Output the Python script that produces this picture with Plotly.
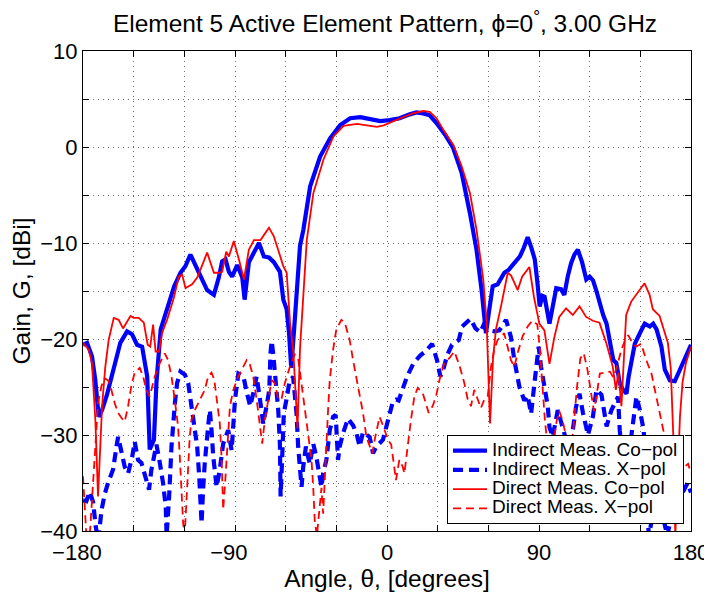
import plotly.graph_objects as go

# ---------------- data ----------------
theta_ind_co = [-180, -177.6, -174.7, -172.7, -170.7, -168.7, -165.8, -161.8, -157.9, -153.9, -151, -148, -145, -142,
                -140.5, -138, -136.5, -134, -130, -126, -122.3, -119.3, -116.4, -113.4, -110.4, -106.5, -102.5, -99.6,
                -97.6, -95.6, -93.6, -91.7, -88.7, -85.7, -84.3, -81.8, -78.8, -75.8, -72.9, -69.9, -67, -63.4, -61.4,
                -59.4, -58, -56.7, -55, -53.5, -51.5, -49.5, -45.5, -39.6, -33.7, -27.7, -21.8, -15.8, -9.9, -4, 1.6,
                7.5, 13.5, 17.4, 21.4, 25.3, 29.3, 34.3, 39.2, 44.2, 49.1, 53, 56, 58.6, 60.5, 62.6, 65.5, 69.5, 72,
                75, 78.7, 81, 83.3, 85.5, 87.5, 89, 90.4, 92, 93.3, 96.2, 98, 100.2, 103, 105, 107, 109, 111, 113,
                115.5, 118, 120, 122, 124, 126, 128, 130, 132, 134, 135.8, 137.8, 139.8, 141.8, 143, 144.7, 146.7,
                149.7, 152.6, 155.6, 157.6, 159.6, 162.5, 164.5, 167.5, 170.4, 173.4, 176.4, 180]
gain_ind_co = [-20.6, -20.4, -21.8, -24.3, -28.1, -27.4, -25.8, -22.9, -20.4, -19.2, -19.5, -20.6, -20.8, -23.9,
               -31.5, -30.5, -24.5, -19.0, -16.8, -14.5, -13.1, -12.4, -11.2, -12.4, -13.5, -14.9, -15.4, -13.6,
               -11.9, -11.7, -13.0, -13.5, -12.3, -13.6, -15.9, -12.0, -11.0, -10.0, -11.4, -11.5, -12.0, -13.0, -15.9,
               -16.9, -19.4, -23.0, -19.0, -14.9, -10.3, -8.6, -4.1, -1.0, 0.9, 2.3, 3.0, 3.1, 2.9, 2.7, 2.8,
               3.0, 3.4, 3.6, 3.5, 3.3, 2.5, 1.3, -0.1, -2.7, -6.9, -10.7, -14.9, -19.4, -17.0, -14.5, -14.3, -13.1, -12.8,
               -12.2, -11.4, -10.5, -9.4, -10.5, -11.7, -14.0, -16.6, -15.5, -15.6, -18.4, -16.5, -14.7, -14.8, -15.4,
               -13.5, -12.1, -11.2, -10.7, -12.0, -13.8, -13.5, -13.9, -15.0, -16.3, -17.5, -18.4, -20.5, -22.2, -22.5,
               -24.6, -25.3, -25.7, -24.0, -22.5, -20.5, -19.4, -18.4, -18.7, -18.4, -19.0, -20.8, -23.2, -24.3, -24.4,
               -23.2, -21.8, -20.6]

theta_ind_x = [-180, -178, -176, -174, -172.5, -171, -169, -167.2, -165.2, -162.2, -160, -159.2, -157.3, -155.3,
               -153.3, -150.8, -149.4, -147.4, -145.4, -143.4, -140.9, -139.5, -136.5, -134.5, -132.6, -131, -130.5,
               -129, -127.6, -125.6, -124.3, -122.3, -119.7, -117.7, -115.8, -113.8, -112.4, -111.2, -110.4, -109.8,
               -108.9, -107.9, -105.9, -104.9, -103.9, -102.9, -100.9, -99, -97, -94, -92, -91, -90, -88, -85, -83,
               -81, -79, -77.2, -75.2, -73.3, -71.3, -69.7, -69, -68.3, -67.4, -66.4, -64.4, -63.4, -63, -61.9,
               -61.1, -59.5, -57.9, -55.6, -53.6, -52.6, -51.6, -50.6, -49.6, -48, -46.7, -45.7, -43.7, -41.8,
               -40.2, -38.8, -37.8, -35.9, -33.9, -31.9, -30.4, -29, -28, -26, -23.1, -20.1, -18.1, -16.2, -14.2,
               -10.3, -8.3, -6.3, -2.4, -0.4, 1.5, 3.5, 5.5, 6.9, 11.9, 15.8, 19.8, 22.7, 26.7, 29.6, 31.6, 33.6,
               35.6, 38.5, 42.5, 44.5, 49.4, 52.4, 55.3, 57.3, 60.6, 63.6, 66.5, 70.5, 73.4, 75.4, 78.4, 81.3, 83.3,
               85.3, 87.5, 88.8, 89.8, 91.2, 93.2, 95.2, 96.2, 98.1, 101.1, 103.1, 105.1, 108, 112, 114, 116, 119,
               122, 124, 127, 130, 132.9, 136.8, 137.8, 140, 144, 147.7, 149.7, 152, 155, 160, 166, 170, 175, 178, 180]
gain_ind_x = [-36.8, -36.9, -35.9, -37.0, -39.5, -41.0, -37.8, -36.2, -35.0, -33.6, -31.0, -30.2, -31.7, -33.3,
              -34.0, -32.2, -30.7, -32.6, -32.9, -34.3, -35.7, -33.6, -31.0, -32.9, -35.0, -37.5, -40.5,
              -36.4, -31.2, -26.7, -24.6, -23.4, -23.7, -24.6, -27.0, -29.1, -31.2, -34.3, -37.1, -39.2,
              -35.7, -32.9, -29.1, -27.4, -29.5, -32.2, -35.4, -33.6, -30.9, -29.5, -31.6, -28.1, -26.3, -23.6, -23.9,
              -25.6, -27.0, -25.5, -23.9, -26.3, -28.8, -27.0, -25.3, -21.5, -20.2, -21.5, -23.6, -27.4, -31.0, -36.4,
              -31.6, -27.7, -26.3, -24.6, -23.9, -27.7, -31.2, -34.0, -35.4, -33.3, -31.2, -32.3, -33.0, -30.9, -32.3,
              -34.0, -35.4, -34.0, -32.6, -29.5, -28.1, -27.9, -32.6, -31.2, -29.8, -28.3, -29.0, -29.8, -31.2, -29.7,
              -30.2, -31.9, -31.2, -30.5, -29.1, -27.9, -26.5, -26.3, -26.4, -23.9, -22.5, -21.7, -21.3, -20.5, -22.2,
              -23.9, -23.0, -21.7, -20.6, -20.1, -18.7, -17.9, -18.9, -19.3, -18.5, -19.1, -19.2, -19.1, -18.0, -19.8,
              -22.2, -25.0, -26.4, -25.9, -27.8, -24.3, -22.2, -20.8, -22.9, -25.0, -27.0, -29.2, -30.2, -27.4, -28.5,
              -29.9, -32.0, -27.0, -25.7, -27.7, -30.0, -28.0, -25.3, -25.8, -29.1, -27.4, -26.0, -29.5, -33.0, -31.0,
              -26.0, -27.4, -29.5, -40.5, -36.0, -40.5, -37.0, -36.0, -35.0, -36.0]

theta_dir_co = [-180, -176.6, -174.7, -172.7, -171.1, -168.7, -166.8, -164.8, -161.8, -158.9, -156.3, -153.9, -151.9,
                -150, -147, -144, -141.7, -140.2, -138.5, -137, -135, -133.2, -130.2, -126.2, -123.3, -121.3, -119.3,
                -115.4, -112.4, -109.4, -106.5, -102.5, -99.6, -97.6, -95.2, -93.6, -90.7, -87.7, -84.7, -81.8, -78.8,
                -74.9, -69.9, -67, -63, -61.4, -59.4, -57.4, -55.4, -53, -51.5, -49.5, -47.5, -43.6, -37.6, -31.7,
                -25.7, -17.8, -9.9, -6, -2, 3.6, 9.5, 15.4, 21.4, 25.3, 29.3, 33.3, 39.2, 44.2, 49.1, 53, 57, 59, 61,
                62.8, 64.5, 67.5, 71.5, 73.5, 77.4, 80, 84.3, 87, 90.2, 93.2, 96.2, 99.1, 102, 106, 110, 114, 117.9,
                121.9, 125.8, 129.8, 133.7, 135.5, 137, 138.8, 139.8, 141.6, 144.6, 149.5, 152.5, 155.5, 157.4, 161.4,
                166.3, 168, 169.5, 170.7, 172.2, 173.5, 175, 177, 180]
gain_dir_co = [-20.4, -21.1, -22.5, -28.4, -36.4, -27.0, -22.9, -20.1, -17.8, -18.0, -18.9, -18.2, -17.6,
               -17.8, -17.8, -18.3, -20.6, -20.8, -18.5, -21.3, -21.3, -19.4, -18.0, -15.7, -13.5, -13.3, -14.7,
               -14.3, -13.6, -12.3, -11.0, -13.1, -13.1, -13.0, -10.9, -11.4, -9.8, -11.7, -13.8, -10.7, -9.7,
               -9.7, -8.4, -9.3, -11.7, -12.4, -13.1, -18.3, -21.5, -29.3, -21.0, -14.9, -9.7, -4.8, -1.3, 1.1,
               2.2, 2.4, 2.2, 2.1, 2.26, 2.7, 3.1, 3.5, 3.75, 3.65, 3.0, 1.8, 0.24, -2.0, -4.8, -8.6, -13.8, -18.3, -28.8,
               -22.0, -19.0, -16.6, -13.1, -13.4, -14.9, -13.5, -12.5, -15.6, -18.4, -19.1, -22.6, -19.8, -17.7, -16.8,
               -17.5, -16.6, -17.7, -18.1, -18.3, -20.4, -22.9, -25.3, -23.5, -27.0, -23.2, -17.5, -16.1, -14.9, -14.2,
               -15.4, -16.9, -17.6, -20.4, -23.0, -30.0, -40.5, -33.0, -28.0, -24.5, -22.5, -20.8]

theta_dir_x = [-180, -179, -178, -176, -175, -174, -173, -172, -171.1, -169.1, -167.2, -165.2, -163.2, -161.2,
               -159.2, -157.3, -155.3, -153.3, -151.3, -149.4, -146.4, -144.4, -142.5, -140.5, -137.5, -134.5,
               -131.6, -129.6, -127.6, -125.7, -123.7, -122.7, -121.7, -120.7, -119.8, -118.7, -116.8, -115.8,
               -113.8, -111.8, -109.8, -107.9, -105.9, -103.9, -102.3, -101, -99, -98, -97.4, -97, -96, -94, -93,
               -91, -88.1, -86, -83.1, -81.1, -79.2, -77.2, -75.2, -73.9, -72.3, -70.3, -68.3, -66.4, -64.4, -62.4,
               -60.5, -57.5, -54.6, -52.6, -50.6, -48.7, -46.7, -44.7, -43.7, -42.8, -41.5, -39.8, -38.8, -37.8,
               -36.8, -35.9, -34.9, -33.9, -31.9, -30, -27, -25, -22.1, -20.1, -17.2, -14.2, -12.2, -10.3, -8.7,
               -7.3, -5.4, -4.4, -2.4, 0.6, 2.5, 3.5, 5.3, 7.3, 9.3, 10.3, 12.2, 14.2, 16.2, 18.2, 21.1, 23.1, 24.7,
               27, 29, 31, 34, 36.9, 39.9, 42.8, 45.8, 47.8, 49.7, 51.7, 53.7, 55.6, 57.6, 59.6, 61.6, 63.5, 65.5,
               69.4, 71.4, 73.4, 75.4, 77.3, 80.3, 83.3, 86, 89, 90.5, 92, 93.5, 95, 98, 100.5, 102, 104, 107, 110,
               112.5, 114.5, 116.5, 118.5, 120.5, 122.5, 124, 126, 129, 132, 134, 136, 138.8, 140.8, 142.8, 145,
               147.5, 150.5, 153.5, 156.6, 158.6, 161.5, 163, 166, 170, 175, 178.3, 180]
gain_dir_x = [-34.3, -37.8, -40.5, -40.5, -37.8, -35.4, -32.9, -29.5, -26.7, -24.9, -24.1, -24.3, -25.3, -26.7,
              -27.7, -28.2, -28.6, -27.0, -24.8, -23.5, -23.0, -23.9, -25.3, -26.0, -23.9, -22.5,
              -21.5, -22.2, -23.9, -26.3, -29.1, -32.2, -35.7, -39.2, -40.5, -36.4, -30.2, -28.4,
              -27.4, -26.7, -26.0, -25.3, -23.9, -23.5, -24.2, -26.0, -28.8, -32.2, -35.0, -37.8, -35.4, -29.5, -27.0,
              -25.3, -23.9, -23.2, -22.2, -22.7, -23.9, -26.3, -29.5, -30.9, -28.4, -26.3, -24.3, -24.6, -26.3, -26.2,
              -24.6, -22.9, -21.6, -22.0, -24.6, -27.0, -29.8, -32.6, -35.4, -38.9, -40.5, -37.5, -35.5, -38.2,
              -34.0, -30.5, -27.4, -24.3, -21.1, -19.0, -18.0, -18.3, -20.1, -22.2, -24.9, -27.7, -30.2, -31.2, -31.9,
              -30.5, -29.1, -28.1, -29.0, -30.5, -31.0, -32.3, -34.7, -32.6, -33.3, -34.0, -31.2, -28.4, -26.0, -25.1,
              -25.6, -26.7, -27.7, -27.0, -26.0, -24.3, -22.5, -22.0, -21.3, -22.7, -24.6, -26.3, -27.0, -25.3, -26.3,
              -27.2, -26.3, -26.0, -22.9, -21.1, -20.1, -19.4, -20.8, -22.2, -22.9, -21.5, -19.7, -18.7, -18.1, -18.5,
              -21.0, -25.0, -28.5, -31.0, -31.5, -28.5, -27.5, -28.5, -31.0, -30.0, -25.0, -22.0, -21.5, -23.0, -25.5,
              -27.5, -26.0, -23.6, -23.5, -23.4, -24.0, -23.0, -21.1, -20.2, -19.6, -20.3, -20.8, -20.5, -22.2, -23.6,
              -25.3, -27.7, -28.8, -31.5, -34.0, -33.5, -33.0, -34.0]

x_tick_vals = [-180, -90, 0, 90, 180]
x_tick_text = ["\u2212180", "\u221290", "0", "90", "180"]
x_grid_step = 30
y_tick_vals = [-40, -30, -20, -10, 0, 10]
y_tick_text = ["\u221240", "\u221230", "\u221220", "\u221210", "0", "10"]
y_grid_step = 5

series_names = ["Indirect Meas. Co\u2212pol", "Indirect Meas. X\u2212pol",
                "Direct Meas. Co\u2212pol", "Direct Meas. X\u2212pol"]

# ---------------- figure ----------------
# The page body keeps its default 8px margin, so the figure is sized to fit the
# 712x593 window exactly from that offset.
W, H = 704, 585
FONT = "Liberation Sans, Arial, Helvetica, sans-serif"
LEG_SPAN = '<span style="font-size:19px">{}</span>'

# negative x labels: the number (not the minus) is centred on the tick, as in the reference
x_tick_labels = [t + "\u00a0\u00a0" if t.startswith("\u2212") else t for t in x_tick_text]

fig = go.Figure()
fig.add_trace(go.Scatter(x=theta_ind_co, y=gain_ind_co, mode="lines", name=LEG_SPAN.format(series_names[0]),
                         line=dict(color="#0000ff", width=4.2)))
fig.add_trace(go.Scatter(x=theta_ind_x, y=gain_ind_x, mode="lines", name=LEG_SPAN.format(series_names[1]),
                         line=dict(color="#0000ff", width=4.2, dash="10px,6px")))
fig.add_trace(go.Scatter(x=theta_dir_co, y=gain_dir_co, mode="lines", name=LEG_SPAN.format(series_names[2]),
                         line=dict(color="#ff0000", width=1.8)))
fig.add_trace(go.Scatter(x=theta_dir_x, y=gain_dir_x, mode="lines", name=LEG_SPAN.format(series_names[3]),
                         line=dict(color="#ff0000", width=1.8, dash="8px,5px")))

grid_style = dict(gridcolor="#6e6e6e", gridwidth=1, griddash="1px,4px")
axis_common = dict(showline=True, linecolor="black", linewidth=1, mirror="ticks",
                   ticks="inside", ticklen=6, tickcolor="black", tickwidth=1,
                   showgrid=True, zeroline=False, automargin=False,
                   tickfont=dict(family=FONT, size=22, color="black"), **grid_style)

fig.update_xaxes(range=[-180, 180], tickmode="array", tickvals=x_tick_vals, ticktext=x_tick_labels,
                 minor=dict(dtick=x_grid_step, tick0=0, ticks="inside", ticklen=6, tickcolor="black",
                            showgrid=True, **grid_style),
                 ticklabelstandoff=2,
                 title=dict(text="Angle, \u03b8, [degrees]", font=dict(family=FONT, size=24.5, color="black"),
                            standoff=4),
                 **axis_common)
fig.update_yaxes(range=[-40, 10], tickmode="array", tickvals=y_tick_vals, ticktext=y_tick_text,
                 minor=dict(dtick=y_grid_step, tick0=0, ticks="inside", ticklen=6, tickcolor="black",
                            showgrid=True, **grid_style),
                 title=dict(text="Gain, G, [dBi]", font=dict(family=FONT, size=24.5, color="black"),
                            standoff=6),
                 **axis_common)

plot_l, plot_r, plot_t, plot_b = 75, 683, 43, 523
fig.update_layout(
    width=W, height=H,
    margin=dict(l=plot_l, r=W - plot_r, t=plot_t, b=H - plot_b),
    paper_bgcolor="white", plot_bgcolor="white",
    font=dict(family=FONT, color="black"),
    title=dict(text="Element 5 Active Element Pattern, \u03d5=0<sup>\u00b0</sup>, 3.00 GHz",
               font=dict(family=FONT, size=24.5, color="black"),
               x=377 / W, xanchor="center", xref="container", y=1 - 15.5 / H, yanchor="middle",
               automargin=False),
    showlegend=True,
    legend=dict(x=1 - 7 / 608, xanchor="right", y=7 / 480, yanchor="bottom",
                bgcolor="white", bordercolor="black", borderwidth=1,
                font=dict(family=FONT, size=12.5, color="black"),
                tracegroupgap=0, itemwidth=34),
)

fig.write_html("out.html")
